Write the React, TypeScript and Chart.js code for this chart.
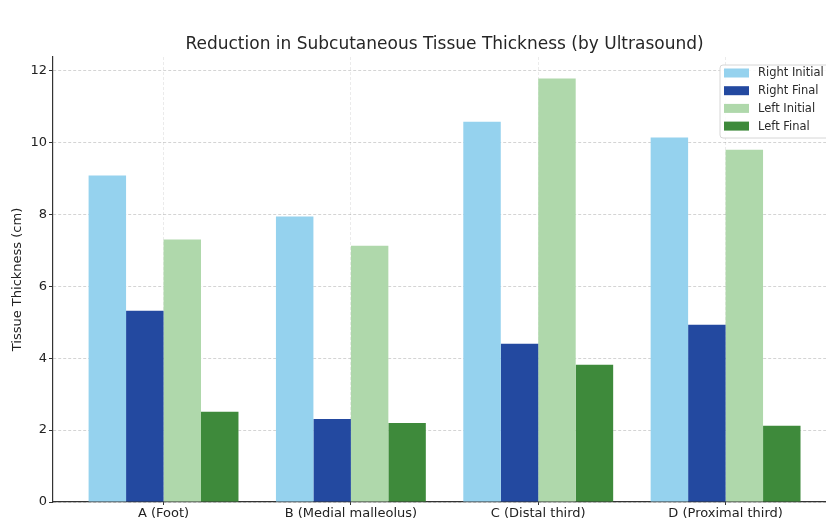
import React, { useEffect, useRef } from "react";
import { Chart, registerables } from "chart.js";

Chart.register(...registerables);

const categories = ["A (Foot)", "B (Medial malleolus)", "C (Distal third)", "D (Proximal third)"];
const rightInitial = [9.08, 7.94, 10.58, 10.14];
const rightFinal = [5.32, 2.31, 4.4, 4.93];
const leftInitial = [7.3, 7.13, 11.78, 9.8];
const leftFinal = [2.51, 2.2, 3.82, 2.12];
const seriesNames = ["Right Initial", "Right Final", "Left Initial", "Left Final"];
const seriesColors = ["#95d2ee", "#2349a0", "#afd8ab", "#3e8a3b"];
const yTicks = [0, 2, 4, 6, 8, 10, 12];
const titleText = "Reduction in Subcutaneous Tissue Thickness (by Ultrasound)";
const yTitle = "Tissue Thickness (cm)";

const FONT = '"DejaVu Sans", sans-serif';

export default function App() {
  const ref = useRef<HTMLCanvasElement | null>(null);
  useEffect(() => {
    if (!ref.current) return;
    const seriesValues = [rightInitial, rightFinal, leftInitial, leftFinal];
    const overlay = {
      id: "overlay",
      afterDraw(chart: any) {
        const ctx = chart.ctx;
        const xs = chart.scales.x;
        ctx.save();
        // title
        ctx.font = `17px ${FONT}`;
        ctx.fillStyle = "#262626";
        ctx.textAlign = "center";
        ctx.textBaseline = "middle";
        ctx.fillText(titleText, xs.getPixelForValue(1.5), 45);
        // legend
        const lx = 720, ly = 65, lw = 130, lh = 73;
        ctx.beginPath();
        const r = 3;
        ctx.moveTo(lx + r, ly);
        ctx.lineTo(lx + lw - r, ly);
        ctx.arcTo(lx + lw, ly, lx + lw, ly + r, r);
        ctx.lineTo(lx + lw, ly + lh - r);
        ctx.arcTo(lx + lw, ly + lh, lx + lw - r, ly + lh, r);
        ctx.lineTo(lx + r, ly + lh);
        ctx.arcTo(lx, ly + lh, lx, ly + lh - r, r);
        ctx.lineTo(lx, ly + r);
        ctx.arcTo(lx, ly, lx + r, ly, r);
        ctx.closePath();
        ctx.fillStyle = "rgba(255,255,255,0.85)";
        ctx.fill();
        ctx.strokeStyle = "#d6d6d6";
        ctx.lineWidth = 1;
        ctx.stroke();
        ctx.font = `11.5px ${FONT}`;
        ctx.textAlign = "left";
        chart.data.datasets.forEach((ds: any, i: number) => {
          const cy = 73 + i * 17.7;
          ctx.fillStyle = ds.backgroundColor;
          ctx.fillRect(724, cy - 4.5, 25, 9);
          ctx.fillStyle = "#2a2a2a";
          ctx.fillText(ds.label, 758, cy + 0.5);
        });
        ctx.restore();
      },
    };
    const chart = new Chart(ref.current, {
      type: "bar",
      data: {
        datasets: seriesNames.map((name, s) => ({
          label: name,
          data: seriesValues[s].map((v, i) => ({ x: i, y: v })),
          backgroundColor: seriesColors[s],
          borderWidth: 0,
          categoryPercentage: 0.8,
          barPercentage: 1.0,
        })),
      },
      options: {
        animation: false,
        responsive: false,
        devicePixelRatio: 1,
        layout: { padding: { top: 57, left: 0, right: 0, bottom: 0 } },
        plugins: { legend: { display: false }, title: { display: false }, tooltip: { enabled: false } },
        scales: {
          x: {
            type: "linear",
            min: -0.59,
            max: 3.536,
            offset: false,
            afterFit: (s: any) => { s.height = 18; },
            afterBuildTicks: (s: any) => { s.ticks = categories.map((_, i) => ({ value: i })); },
            ticks: {
              autoSkip: false,
              maxRotation: 0,
              padding: 1,
              color: "#222",
              font: { family: FONT, size: 13 },
              callback: (v: any) => categories[v] ?? "",
            },
            grid: {
              offset: false,
              color: "rgba(0,0,0,0.08)",
              tickLength: 3,
              tickColor: "#333",
              tickBorderDash: [],
            } as any,
            border: { display: true, color: "#333", width: 1.2, dash: [3, 2] },
          },
          y: {
            min: 0,
            max: 12.38,
            afterFit: (s: any) => { s.width = 53; },
            afterBuildTicks: (s: any) => { s.ticks = yTicks.map((v) => ({ value: v })); },
            ticks: {
              padding: 2,
              color: "#222",
              font: { family: FONT, size: 13 },
            },
            grid: {
              color: "rgba(0,0,0,0.17)",
              tickLength: 4,
              tickColor: "#333",
              tickBorderDash: [],
            } as any,
            border: { display: true, color: "#333", width: 1.2, dash: [3, 2] },
            title: {
              display: true,
              text: yTitle,
              color: "#222",
              font: { family: FONT, size: 13 },
              padding: { top: 10, bottom: 0 },
            },
          },
        },
      },
      plugins: [overlay],
    });
    return () => chart.destroy();
  }, []);
  return (
    <div style={{ position: "absolute", left: 0, top: 0, width: 826, height: 520, background: "#fff" }}>
      <canvas ref={ref} width={826} height={520} />
    </div>
  );
}
